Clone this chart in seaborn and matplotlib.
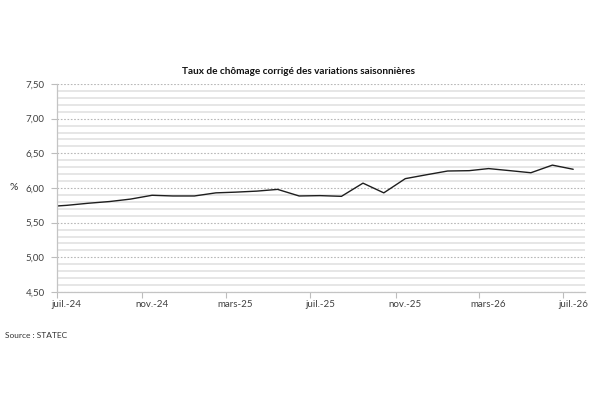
import matplotlib
matplotlib.use("Agg")
import matplotlib.pyplot as plt
from matplotlib.ticker import MultipleLocator, FuncFormatter
import seaborn as sns
import pandas as pd

# ---- data ----
month_starts = ["2024-06-01", "2024-07-01", "2024-08-01", "2024-09-01", "2024-10-01",
                "2024-11-01", "2024-12-01", "2025-01-01", "2025-02-01", "2025-03-01",
                "2025-04-01", "2025-05-01", "2025-06-01", "2025-07-01", "2025-08-01",
                "2025-09-01", "2025-10-01", "2025-11-01", "2025-12-01", "2026-01-01",
                "2026-02-01", "2026-03-01", "2026-04-01", "2026-05-01", "2026-06-01",
                "2026-07-01"]
rates = [5.73, 5.75, 5.78, 5.805, 5.84, 5.895, 5.885, 5.885, 5.93, 5.94, 5.955,
         5.98, 5.885, 5.89, 5.88, 6.07, 5.93, 6.135, 6.19, 6.245, 6.25, 6.28,
         6.25, 6.22, 6.33, 6.27]
tick_dates = ["2024-07-01", "2024-11-01", "2025-03-01", "2025-07-01",
              "2025-11-01", "2026-03-01", "2026-07-01"]
tick_labels = ["juil.-24", "nov.-24", "mars-25", "juil.-25", "nov.-25",
               "mars-26", "juil.-26"]
title = "Taux de chômage corrigé des variations saisonnières"
source = "Source : STATEC"

# points are plotted mid-month (date axis)
dates = pd.to_datetime(month_starts) + pd.Timedelta(days=14)
df = pd.DataFrame({"date": dates, "taux": rates})

sns.set_style("white")
plt.rcParams["font.family"] = ["Lato", "DejaVu Sans"]

fig = plt.figure(figsize=(6, 4), dpi=100)
ax = fig.add_axes([57 / 600, 1 - 292 / 400, (585 - 57) / 600, (292 - 84) / 400])

sns.lineplot(data=df, x="date", y="taux", ax=ax, color="#1e1e1e", linewidth=1.0)

ax.set_xlim(pd.Timestamp("2024-07-01"), pd.Timestamp("2026-08-01"))
ax.set_ylim(4.5, 7.5)

# y axis
ax.yaxis.set_major_locator(MultipleLocator(0.5))
ax.yaxis.set_minor_locator(MultipleLocator(0.1))
ax.yaxis.set_major_formatter(FuncFormatter(lambda v, p: f"{v:.2f}".replace(".", ",")))
ax.grid(False)
ax.yaxis.grid(True, which="minor", color="#e4e4e4", linewidth=1.3, linestyle="-")
ax.yaxis.grid(True, which="major", color="#b8b8b8", linewidth=0.8, linestyle=(0, (1.5, 1.5)))
ax.set_axisbelow(True)
ax.tick_params(axis="y", which="major", length=4, width=0.8, color="#bdbdbd",
               labelsize=7, labelcolor="#404040", pad=5, left=True)
ax.tick_params(axis="y", which="minor", length=0)

# x axis: tick marks at month starts, labels slightly to the right
tks = [pd.Timestamp(d) for d in tick_dates]
ax.set_xticks(tks)
ax.set_xticklabels([""] * len(tks))
ax.set_xticks([t + pd.Timedelta(days=14) for t in tks], minor=True)
ax.set_xticklabels(tick_labels, minor=True)
ax.tick_params(axis="x", which="major", length=4, width=0.8, color="#bdbdbd", bottom=True)
ax.tick_params(axis="x", which="minor", length=0, labelsize=7, labelcolor="#404040", pad=6)

for s in ["top", "right"]:
    ax.spines[s].set_visible(False)
for s in ["left", "bottom"]:
    ax.spines[s].set_color("#c4c4c4")
    ax.spines[s].set_linewidth(0.9)

ax.set_xlabel("")
ax.set_ylabel("")

fig.text(0.497, 1 - 72 / 400, title, ha="center", va="center", fontsize=7.2,
         fontweight="bold", color="#111111")
fig.text(10 / 600, 1 - 187 / 400, "%", ha="left", va="center", fontsize=7.5, color="#333333")
fig.text(5 / 600, 1 - 336 / 400, source, ha="left", va="center", fontsize=6, color="#333333")

fig.savefig("out.png", dpi=100, facecolor="white")
